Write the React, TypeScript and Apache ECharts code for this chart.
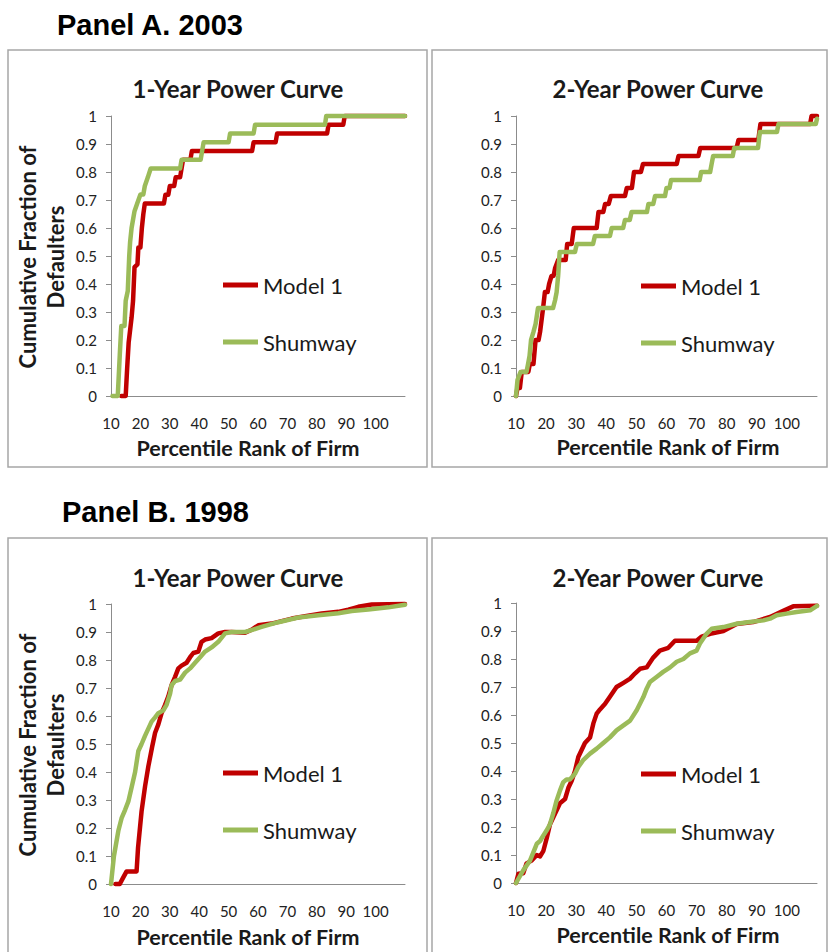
import React, { useEffect, useRef } from "react";
import * as echarts from "echarts";

// ---------- data (x = percentile rank of firm, y = cumulative fraction of defaulters) ----------
const panelATitle = "Panel A. 2003";
const panelBTitle = "Panel B. 1998";
const chartTitles = ["1-Year Power Curve", "2-Year Power Curve", "1-Year Power Curve", "2-Year Power Curve"];
const seriesNames = ["Model 1", "Shumway"];
const xAxisTitle = "Percentile Rank of Firm";
const yAxisTitle = "Cumulative Fraction of\nDefaulters";

const a2003OneYearModel1 = [
  [13.5, 0], [15, 0], [15.5, 0.1], [16, 0.19], [17, 0.28], [17.5, 0.34], [18, 0.46], [19, 0.47], [19.3, 0.53],
  [20, 0.53], [20.5, 0.6], [21, 0.65], [21.5, 0.6875], [28, 0.6875], [28.5, 0.71875], [29.5, 0.71875], [30, 0.75],
  [31.5, 0.75], [32, 0.78125], [33.5, 0.78125], [34.5, 0.84375], [37, 0.84375], [37.5, 0.875], [58, 0.875],
  [58.5, 0.90625], [66, 0.90625], [66.5, 0.9375], [83.5, 0.9375], [84, 0.96875], [89, 0.96875], [89.5, 1], [110, 1],
];
const a2003OneYearShumway = [
  [10.5, 0], [12.3, 0], [13, 0.15], [13.5, 0.25], [14.6, 0.25], [15, 0.34], [15.7, 0.375], [16.2, 0.5],
  [16.5, 0.55], [17, 0.6], [18, 0.66], [19, 0.69], [20, 0.72], [21, 0.72], [21.5, 0.75], [22.5, 0.78],
  [23.5, 0.8125], [33.5, 0.8125], [34, 0.84375], [40.5, 0.84375], [41.5, 0.90625], [50, 0.90625], [50.5, 0.9375],
  [58.5, 0.9375], [59, 0.96875], [82.8, 0.96875], [83.2, 1], [110, 1],
];
const a2003TwoYearModel1 = [
  [10, 0], [10.5, 0.029], [11.3, 0.029], [11.9, 0.086], [14.1, 0.086], [14.6, 0.114], [15.8, 0.114], [16.5, 0.2],
  [17.5, 0.2], [18, 0.229], [19, 0.314], [19.6, 0.371], [20.5, 0.371], [21, 0.4], [21.8, 0.429], [22.5, 0.429],
  [23, 0.457], [24, 0.486], [26.5, 0.486], [27, 0.543], [28.5, 0.543], [29.2, 0.6], [36.8, 0.6], [37.4, 0.657],
  [39, 0.657], [39.6, 0.686], [40.8, 0.686], [41.5, 0.714], [46.2, 0.714], [46.8, 0.743], [48.5, 0.743], [49.2, 0.8],
  [51.5, 0.8], [52.2, 0.829], [63.4, 0.829], [64, 0.857], [70.6, 0.857], [71.2, 0.886], [83.3, 0.886], [83.9, 0.914],
  [90.5, 0.914], [91.2, 0.971], [107.7, 0.971], [108.2, 1], [110, 1],
];
const a2003TwoYearShumway = [
  [10, 0], [10.5, 0.057], [11.5, 0.086], [13.5, 0.086], [14, 0.114], [14.5, 0.143], [15, 0.2], [15.8, 0.229],
  [16.5, 0.257], [17.3, 0.314], [22.3, 0.314], [23, 0.343], [23.5, 0.371], [24, 0.429], [24.5, 0.514], [29.6, 0.514],
  [30.2, 0.543], [35.6, 0.543], [36.2, 0.571], [41.2, 0.571], [41.8, 0.6], [45.6, 0.6], [46.2, 0.629], [47.8, 0.629],
  [48.4, 0.657], [53.5, 0.657], [54, 0.686], [55.6, 0.686], [56.2, 0.714], [59.5, 0.714], [60, 0.743], [61, 0.743],
  [61.5, 0.771], [71, 0.771], [71.5, 0.8], [74.5, 0.8], [75, 0.829], [75.5, 0.857], [82, 0.857], [82.5, 0.886],
  [90.4, 0.886], [91, 0.943], [96.7, 0.943], [97.2, 0.971], [109.6, 0.971], [110, 0.99],
];
const b1998OneYearModel1 = [
  [11.5, 0], [13, 0], [14, 0.02], [15.3, 0.045], [18.7, 0.045], [19.2, 0.13], [20.4, 0.26], [21.6, 0.35],
  [22.7, 0.42], [24, 0.49], [25, 0.54], [26.1, 0.57], [27.2, 0.61], [28.4, 0.64], [29.5, 0.67], [30.6, 0.71],
  [31.8, 0.74], [32.9, 0.77], [34, 0.78], [35.7, 0.79], [36.9, 0.81], [38, 0.825], [39.7, 0.83], [40.8, 0.865],
  [42, 0.873], [44.2, 0.878], [46.5, 0.895], [48.8, 0.9], [51, 0.9], [55.6, 0.897], [57.8, 0.908], [60.1, 0.924],
  [64.6, 0.93], [71.5, 0.948], [76, 0.956], [81.7, 0.966], [87.3, 0.972], [90.7, 0.98], [94.1, 0.99], [98.7, 0.998],
  [110, 1],
];
const b1998OneYearShumway = [
  [10, 0], [11, 0.1], [12.5, 0.19], [13.6, 0.235], [14.8, 0.265], [15.9, 0.295], [17, 0.345], [18.2, 0.4],
  [19.3, 0.475], [20.4, 0.5], [21.6, 0.53], [22.7, 0.555], [23.8, 0.58], [25, 0.595], [26.1, 0.61], [27.8, 0.62],
  [28.9, 0.64], [30.1, 0.68], [30.6, 0.71], [31.8, 0.725], [33.5, 0.73], [35.2, 0.755], [36.9, 0.77], [38.6, 0.79],
  [40.3, 0.81], [42, 0.83], [44.2, 0.845], [46.5, 0.865], [48.8, 0.895], [51, 0.9], [55.6, 0.9], [57.8, 0.907],
  [61.2, 0.918], [66.9, 0.935], [73.7, 0.952], [80.5, 0.96], [87.3, 0.967], [91.9, 0.975], [97.5, 0.98],
  [104.3, 0.988], [110, 0.997],
];
const b1998TwoYearModel1 = [
  [10, 0], [10.8, 0.033], [12.4, 0.035], [13.5, 0.07], [15.2, 0.08], [16.9, 0.1], [18, 0.095], [19.1, 0.115],
  [20.2, 0.16], [21.3, 0.21], [22.4, 0.235], [23.5, 0.26], [24.6, 0.285], [26.3, 0.3], [27.4, 0.34], [28.5, 0.365],
  [29.6, 0.4], [30.7, 0.45], [31.8, 0.475], [32.9, 0.5], [34.6, 0.52], [35.7, 0.57], [36.8, 0.605], [37.9, 0.62],
  [39.6, 0.64], [41.2, 0.665], [43.4, 0.7], [45.7, 0.715], [47.9, 0.73], [49.5, 0.748], [51.2, 0.765], [53.4, 0.77],
  [55.6, 0.805], [57.8, 0.83], [60.6, 0.84], [62.8, 0.865], [70, 0.865], [71.7, 0.88], [74.5, 0.89], [78.9, 0.9],
  [83.3, 0.925], [88.8, 0.932], [94.4, 0.95], [98.8, 0.972], [102.1, 0.988], [110, 0.99],
];
const b1998TwoYearShumway = [
  [10, 0], [12.4, 0.045], [14.65, 0.08], [16.9, 0.14], [18, 0.15], [19.1, 0.17], [20.2, 0.188], [21.3, 0.21],
  [22.4, 0.25], [23.5, 0.295], [24.6, 0.33], [25.7, 0.36], [26.8, 0.37], [27.9, 0.37], [29.6, 0.39], [30.7, 0.414],
  [32.4, 0.44], [34.6, 0.462], [36.8, 0.48], [39, 0.5], [41.2, 0.52], [43.4, 0.545], [45.7, 0.563], [47.9, 0.58],
  [50.1, 0.617], [52.3, 0.664], [53.4, 0.694], [54.5, 0.718], [56.7, 0.736], [58.9, 0.754], [61.2, 0.77],
  [63.4, 0.79], [65.6, 0.8], [67.8, 0.82], [70, 0.83], [71.1, 0.855], [73.3, 0.89], [75, 0.908], [78.9, 0.914],
  [83.3, 0.926], [87.7, 0.932], [92.2, 0.938], [94.4, 0.944], [96.6, 0.956], [99.9, 0.962], [103.2, 0.968],
  [107.7, 0.974], [110, 0.99],
];

const chartData = [
  [a2003OneYearModel1, a2003OneYearShumway],
  [a2003TwoYearModel1, a2003TwoYearShumway],
  [b1998OneYearModel1, b1998OneYearShumway],
  [b1998TwoYearModel1, b1998TwoYearShumway],
];

// ---------- layout & style ----------
const RED = "#C00000";
const GREEN = "#9BBB59";
const FONT = "Lato";
const TEXT = "#1a1a1a";

const layouts = [
  { gridLeft: 111, gridTop: 116, gridW: 294, titleX: 238, titleY: 88, xTitleX: 248, xTitleY: 448, legX: 223, legY: 285, yTitle: true, yTitleY: 257 },
  { gridLeft: 516, gridTop: 116, gridW: 301, titleX: 658, titleY: 88, xTitleX: 668, xTitleY: 447, legX: 641, legY: 286, yTitle: false, yTitleY: 0 },
  { gridLeft: 111, gridTop: 604, gridW: 294, titleX: 238, titleY: 577, xTitleX: 248, xTitleY: 937, legX: 223, legY: 773, yTitle: true, yTitleY: 745 },
  { gridLeft: 516, gridTop: 603, gridW: 301, titleX: 658, titleY: 577, xTitleX: 668, xTitleY: 935, legX: 641, legY: 774, yTitle: false, yTitleY: 0 },
];
const GRID_H = 280;

export default function App() {
  const ref = useRef<HTMLDivElement>(null);

  useEffect(() => {
    document.body.style.margin = "0";
    if (!ref.current) return;
    const chart = echarts.init(ref.current, null, { renderer: "svg" });

    const graphic: any[] = [
      { type: "rect", shape: { x: 8, y: 50, width: 419, height: 417 }, style: { fill: "#fff", stroke: "#a6a6a6", lineWidth: 1.5 }, z: -10 },
      { type: "rect", shape: { x: 432, y: 50, width: 395, height: 417 }, style: { fill: "#fff", stroke: "#a6a6a6", lineWidth: 1.5 }, z: -10 },
      { type: "rect", shape: { x: 8, y: 538, width: 419, height: 430 }, style: { fill: "#fff", stroke: "#a6a6a6", lineWidth: 1.5 }, z: -10 },
      { type: "rect", shape: { x: 432, y: 538, width: 395, height: 430 }, style: { fill: "#fff", stroke: "#a6a6a6", lineWidth: 1.5 }, z: -10 },
      { type: "text", x: 57, y: 25, style: { text: panelATitle, fill: "#000", fontFamily: "Liberation Sans", fontWeight: "bold", fontSize: 29, textAlign: "left", verticalAlign: "middle" } },
      { type: "text", x: 62, y: 512, style: { text: panelBTitle, fill: "#000", fontFamily: "Liberation Sans", fontWeight: "bold", fontSize: 29, textAlign: "left", verticalAlign: "middle" } },
    ];

    layouts.forEach((l, i) => {
      graphic.push({ type: "text", x: l.titleX, y: l.titleY, style: { text: chartTitles[i], fill: TEXT, fontFamily: FONT, fontWeight: "bold", fontSize: 24, textAlign: "center", verticalAlign: "middle" } });
      graphic.push({ type: "text", x: l.xTitleX, y: l.xTitleY, style: { text: xAxisTitle, fill: TEXT, fontFamily: FONT, fontWeight: "bold", fontSize: 21.5, textAlign: "center", verticalAlign: "middle" } });
      if (l.yTitle) {
        graphic.push({ type: "text", x: 41, y: l.yTitleY, rotation: Math.PI / 2, style: { text: yAxisTitle, fill: TEXT, fontFamily: FONT, fontWeight: "bold", fontSize: 22, lineHeight: 28, textAlign: "center", verticalAlign: "middle" } });
      }
    });

    const option: any = {
      animation: false,
      backgroundColor: "#fff",
      graphic,
      grid: layouts.map((l) => ({ left: l.gridLeft, top: l.gridTop, width: l.gridW, height: GRID_H, containLabel: false })),
      xAxis: layouts.map((_, i) => ({
        type: "value", gridIndex: i, min: 10, max: 110, interval: 10,
        axisLine: { show: true, lineStyle: { color: "#8c8c8c", width: 1 } },
        axisTick: { show: false },
        splitLine: { show: false },
        axisLabel: { margin: 19, fontFamily: FONT, fontSize: 15, color: "#222", formatter: (v: number) => (v > 100 ? "" : String(v)) },
      })),
      yAxis: layouts.map((_, i) => ({
        type: "value", gridIndex: i, min: 0, max: 1, interval: 0.1,
        axisLine: { show: true, lineStyle: { color: "#8c8c8c", width: 1 } },
        axisTick: { show: true, length: 5, inside: false, lineStyle: { color: "#8c8c8c" } },
        splitLine: { show: false },
        axisLabel: { margin: 14, fontFamily: FONT, fontSize: 15, color: "#222" },
      })),
      legend: layouts.map((l) => ({
        data: seriesNames, orient: "vertical", left: l.legX, top: l.legY - 12, padding: 0,
        itemWidth: 35, itemHeight: 5, itemGap: 33, icon: "rect", selectedMode: false,
        textStyle: { fontFamily: FONT, fontSize: 22, color: TEXT, lineHeight: 24 },
      })),
      series: chartData.flatMap((pair, i) =>
        pair.map((d, j) => ({
          name: seriesNames[j], type: "line", xAxisIndex: i, yAxisIndex: i, data: d,
          symbol: "none", clip: false, z: 2 + j,
          itemStyle: { color: j === 0 ? RED : GREEN },
          lineStyle: { color: j === 0 ? RED : GREEN, width: 4.5, cap: "round", join: "round" },
        }))
      ),
    };

    chart.setOption(option);
    return () => chart.dispose();
  }, []);

  return <div ref={ref} style={{ width: 828, height: 952 }} />;
}
